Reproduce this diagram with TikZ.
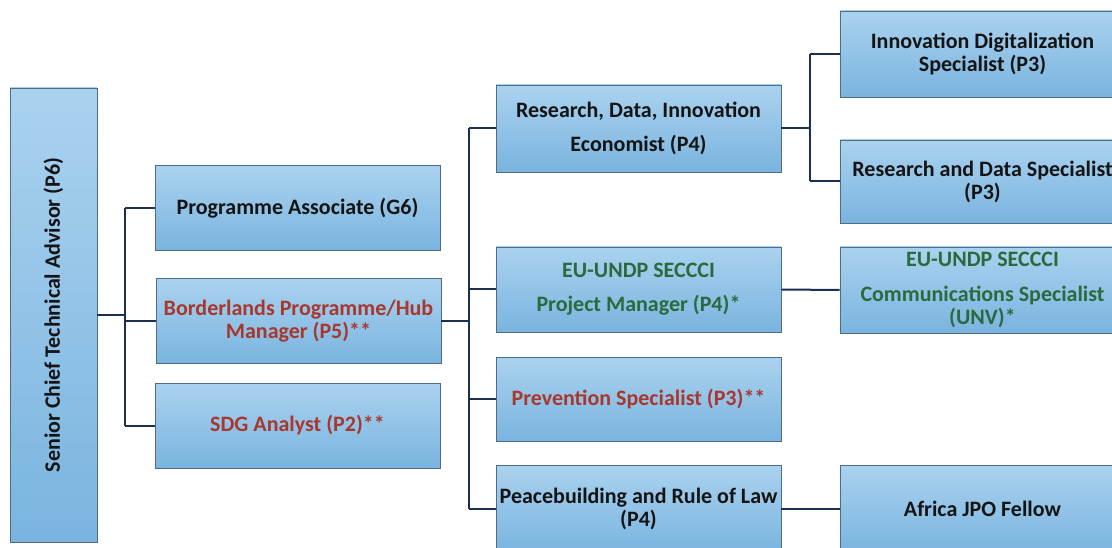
\documentclass[tikz,border=0pt]{standalone}
\usepackage{fontspec}
\setmainfont{Carlito}
\usepackage{xcolor}
\usetikzlibrary{calc}

\definecolor{boxtop}{HTML}{AAD2EF}
\definecolor{boxbot}{HTML}{7AB4DF}
\definecolor{boxline}{HTML}{4E6C88}
\definecolor{wire}{HTML}{1B3050}
\definecolor{redtxt}{HTML}{A8382E}
\definecolor{greentxt}{HTML}{2C6A3E}

\tikzset{
  post/.style={draw=boxline, line width=0.9pt, top color=boxtop, bottom color=boxbot,
    minimum width=285pt, minimum height=85pt, inner sep=2pt, align=center,
    font=\bfseries\fontsize{22}{23}\selectfont, text=black!92},
  wires/.style={draw=wire, line width=2pt},
}

\begin{document}
\begin{tikzpicture}[x=1pt, y=-1pt]
\useasboundingbox (0,0) rectangle (1112,548);
\fill[white] (0,0) rectangle (1112,548);

%Advisor
\node[post, rotate=90, minimum width=454pt, minimum height=87pt] (senior) at (53.5,315) {Senior Chief Technical Advisor (P6)};

%second column
\node[post] (assoc) at (297.5,208) {Programme Associate (G6)};
\node[post, text=redtxt] (border) at (298.5,321) {Borderlands Programme/Hub\\Manager (P5)**};
\node[post, text=redtxt] (sdg) at (297.5,425.5) {SDG Analyst (P2)**};

%third column
\node[post, minimum height=87pt] (research) at (638.5,128.5) {Research, Data, Innovation\\[11pt]Economist (P4)};
\node[post, text=greentxt] (eu) at (638.5,289.5) {EU-UNDP SECCCI\\[11pt]Project Manager (P4)*};
\node[post, text=redtxt, minimum height=84pt] (prev) at (638.5,399) {Prevention Specialist (P3)**};
\node[post, minimum height=87pt] (peace) at (638.5,508.5) {Peacebuilding and Rule of Law\\(P4)};

%fourth column
\node[post, minimum height=86pt] (innov) at (982.5,54) {Innovation Digitalization\\Specialist (P3)};
\node[post, minimum height=83pt] (rdata) at (982.5,181.5) {Research and Data Specialist\\(P3)};
\node[post, minimum height=86pt, text=greentxt] (comm) at (982.5,290) {EU-UNDP SECCCI\\[12pt]Communications Specialist\\(UNV)*};
\node[post, minimum height=87pt] (africa) at (982.5,508.5) {Africa JPO Fellow};

%buses
\coordinate (bus1) at (125,315);
\coordinate (bus2) at (469,321);
\coordinate (bus3) at (810,128.5);

\draw[wires] (senior.south) -- (bus1);
\draw[wires] (bus1 |- assoc.west) -- (bus1 |- sdg.west);
\foreach \n in {assoc, border, sdg}
  \draw[wires] (bus1 |- \n.west) -- (\n.west);

\draw[wires] (border.east) -- (bus2);
\draw[wires] (bus2 |- research.west) -- (bus2 |- peace.west);
\foreach \n in {research, eu, prev, peace}
  \draw[wires] (bus2 |- \n.west) -- (\n.west);

\draw[wires] (research.east) -- (bus3);
\draw[wires] (bus3 |- innov.west) -- (bus3 |- rdata.west);
\foreach \n in {innov, rdata}
  \draw[wires] (bus3 |- \n.west) -- (\n.west);

\draw[wires] (eu.east) -- (comm.west);
\draw[wires] (peace.east) -- (africa.west);
\end{tikzpicture}
\end{document}
